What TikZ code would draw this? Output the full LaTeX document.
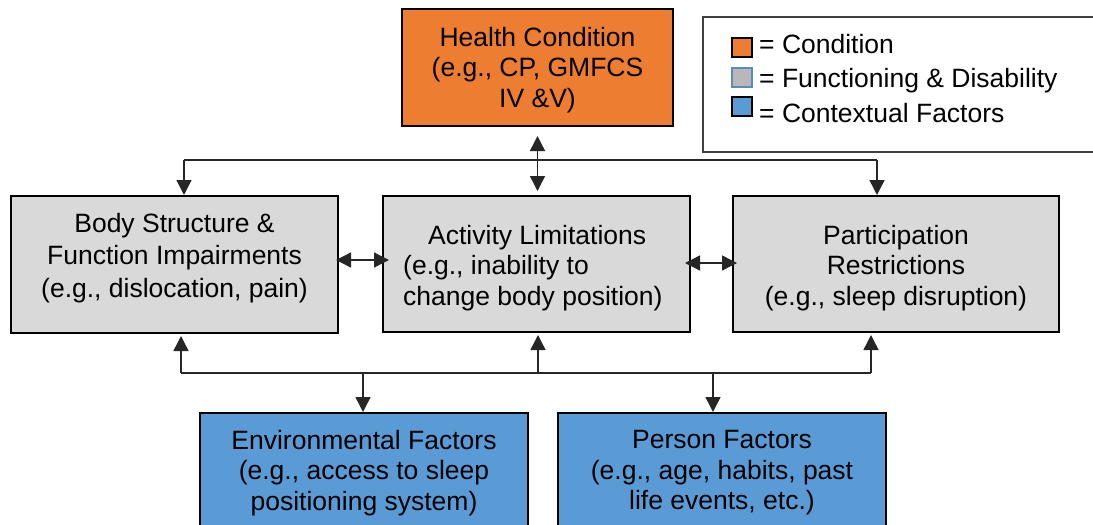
\documentclass[tikz,border=0pt]{standalone}
\usepackage{fontspec}
\setmainfont{Liberation Sans}
\usetikzlibrary{arrows.meta}
\definecolor{hcorange}{HTML}{ED7D31}
\definecolor{fdgray}{HTML}{D9D9D9}
\definecolor{cfblue}{HTML}{5B9BD5}
\definecolor{lgborder}{HTML}{5F88BC}
\definecolor{linecol}{HTML}{262626}
\begin{document}
\begin{tikzpicture}[x=1pt,y=-1pt,
  boxstyle/.style={draw=black,line width=2pt,rectangle,inner sep=0pt},
  txt/.style={inner sep=0pt,font=\fontsize{26.5pt}{30.5pt}\selectfont,align=center},
  conn/.style={draw=linecol,line width=1.4pt},
  arr/.style={conn,-{Triangle[length=15pt,width=15pt]}},
  dbl/.style={conn,{Triangle[length=15pt,width=15pt]}-{Triangle[length=15pt,width=15pt]}},
  legsq/.style={line width=2pt,rectangle,inner sep=0pt,minimum width=20pt,minimum height=19pt},
  legtxt/.style={inner sep=0pt,anchor=base west,font=\fontsize{26.5pt}{30.5pt}\selectfont}]
\useasboundingbox (0,0) rectangle (1093,525);
\clip (0,0) rectangle (1093,525);

% boxes
\node[boxstyle,fill=hcorange,minimum width=271pt,minimum height=117pt] (health) at (537.5,67.5) {};
\node[boxstyle,fill=fdgray,minimum width=327pt,minimum height=137pt] (body) at (174.5,264.5) {};
\node[boxstyle,fill=fdgray,minimum width=307pt,minimum height=136pt] (act) at (536.5,264) {};
\node[boxstyle,fill=fdgray,minimum width=326pt,minimum height=136pt] (part) at (896,264) {};
\node[boxstyle,fill=cfblue,minimum width=328pt,minimum height=140pt] (env) at (364,483) {};
\node[boxstyle,fill=cfblue,minimum width=328pt,minimum height=140pt] (pers) at (722,483) {};

% texts
\node[txt] (health-t) at (537.5,70) {Health Condition\\(e.g., CP, GMFCS\\IV \&V)};
\node[txt,font=\fontsize{26.5pt}{32.5pt}\selectfont] (body-t) at (174.5,257.7) {Body Structure \&\\Function Impairments\\(e.g., dislocation, pain)};
\node[txt,align=left,anchor=west] (act-t) at (403,267.8) {\hspace*{25pt}Activity Limitations\\(e.g., inability to\\change body position)};
\node[txt] (part-t) at (896,267.8) {Participation\\Restrictions\\(e.g., sleep disruption)};
\node[txt] (env-t) at (364,472.8) {Environmental Factors\\(e.g., access to sleep\\positioning system)};
\node[txt] (pers-t) at (722,472.8) {Person Factors\\(e.g., age, habits, past\\life events, etc.)};

% legend
\node[draw=black!75,line width=1.5pt,rectangle,inner sep=0pt,minimum width=410pt,minimum height=135pt] (legend) at (908,84.5) {};
\node[legsq,draw=black,fill=hcorange] (lg-o) at (742,47.5) {};
\node[legsq,draw=lgborder,fill=fdgray!85!black] (lg-g) at (742,77) {};
\node[legsq,draw=black,fill=cfblue] (lg-b) at (742,106.5) {};
\node[legtxt] (lg-ot) at (759,53) {= Condition};
\node[legtxt] (lg-gt) at (759,87) {= Functioning \& Disability};
\node[legtxt] (lg-bt) at (759,122.7) {= Contextual Factors};

% top connectors
\coordinate (tl) at (184,160);
\coordinate (tr) at (877,160);
\draw[conn] (tl) -- (tr);
\draw[arr] (tl) -- (tl |- body.north);
\draw[arr] (tr) -- (tr |- part.north);
\draw[dbl,shorten <=9pt,shorten >=4pt] (health.south) -- (health.south |- act.north);

% horizontal double arrows
\coordinate (ba) at (338,260);
\coordinate (ab) at (383,260);
\draw[dbl,shorten <=-3pt,shorten >=-7pt] (ba -| body.east) -- (ab -| act.west);
\coordinate (ap) at (690,263);
\coordinate (pa) at (733,263);
\draw[dbl,shorten <=-6pt,shorten >=-5pt] (ap -| act.east) -- (pa -| part.west);

% bottom connectors
\coordinate (bl) at (181,373);
\coordinate (bm) at (538,373);
\coordinate (br) at (871,373);
\coordinate (be) at (363,373);
\coordinate (bp) at (713,373);
\draw[conn] (bl) -- (br);
\draw[arr,shorten >=2pt] (bl) -- (bl |- body.south);
\draw[arr,shorten >=2pt] (bm) -- (bm |- act.south);
\draw[arr,shorten >=2pt] (br) -- (br |- part.south);
\draw[arr] (be) -- (be |- env.north);
\draw[arr] (bp) -- (bp |- pers.north);
\end{tikzpicture}
\end{document}
